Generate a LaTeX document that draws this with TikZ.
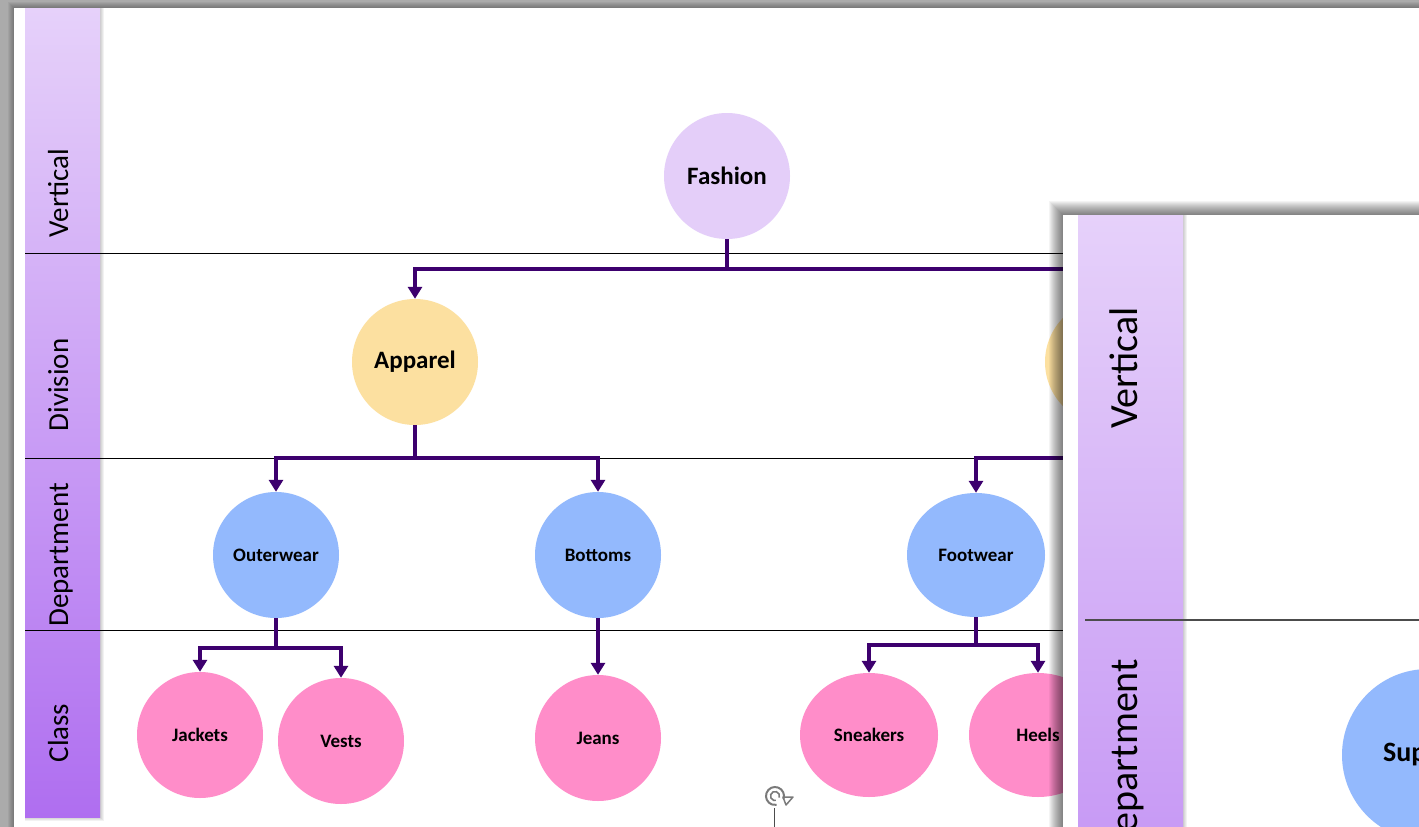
\documentclass[tikz,border=0pt]{standalone}
\usepackage{fontspec}
\setmainfont{Carlito}
\usetikzlibrary{arrows.meta,shapes.geometric}
\definecolor{frame}{HTML}{ABABAB}
\definecolor{lanetop}{HTML}{E6D1FA}
\definecolor{lanebottom}{HTML}{AF6EF0}
\definecolor{vertfill}{HTML}{E4CEF9}
\definecolor{divfill}{HTML}{FCE0A0}
\definecolor{deptfill}{HTML}{93B9FD}
\definecolor{classfill}{HTML}{FF8DC9}
\definecolor{linkpurple}{HTML}{3D006E}
\definecolor{icongray}{HTML}{7A7A7A}
\begin{document}
\begin{tikzpicture}[x=1pt,y=-1pt,
  lanelabel/.style={rotate=90,anchor=base,font=\fontsize{29}{34}\selectfont},
  laneline/.style={draw=black,line width=0.9pt},
  bubble/.style={circle,inner sep=0pt,minimum size=126pt,
    font=\bfseries\fontsize{19}{22}\selectfont},
  wide bubble/.style={ellipse,inner sep=0pt,minimum width=138pt,minimum height=124pt,
    font=\bfseries\fontsize{19}{22}\selectfont},
  big bubble/.style={bubble,font=\bfseries\fontsize{25}{30}\selectfont},
  link/.style={draw=linkpurple,line width=3.5pt,-{Triangle[width=14pt,length=12pt]}}]
  \useasboundingbox (0,0) rectangle (1419,827);
  \clip (0,0) rectangle (1419,827);

  % slide
  \fill[frame] (0,0) rectangle (1419,827);
  \foreach \d in {1,...,6}
    \fill[black,opacity=0.05] (14-\d,8-\d) rectangle (1419,827);
  \fill[white] (14,8) rectangle (1419,827);

  % lane headers
  \foreach \d in {1,...,4}
    \fill[black,opacity=0.05] (25,8) rectangle (100+\d,817+\d);
  \shade[top color=lanetop,bottom color=lanebottom] (25,8) rectangle (100,817);
  \draw[laneline] (25,253) -- (1063,253);
  \draw[laneline] (25,458) -- (1063,458);
  \draw[laneline] (25,630) -- (1063,630);
  \node[lanelabel] (lvertical) at (68,193) {Vertical};
  \node[lanelabel] (ldivision) at (68,385) {Division};
  \node[lanelabel] (ldepartment) at (68,555) {Department};
  \node[lanelabel] (lclass) at (68,733) {Class};

  % nodes
  \node[big bubble,fill=vertfill] (fashion) at (727,176) {Fashion};
  \node[big bubble,fill=divfill] (apparel) at (415,362) {Apparel};
  \node[big bubble,fill=divfill] (division2) at (1108,362) {};
  \node[bubble,fill=deptfill] (outerwear) at (276,555) {Outerwear};
  \node[bubble,fill=deptfill] (bottoms) at (598,555) {Bottoms};
  \node[wide bubble,fill=deptfill] (footwear) at (976,555) {Footwear};
  \node[bubble,fill=classfill] (jackets) at (200,735) {Jackets};
  \node[bubble,fill=classfill] (vests) at (341,741) {Vests};
  \node[bubble,fill=classfill] (jeans) at (598,738) {Jeans};
  \node[wide bubble,fill=classfill] (sneakers) at (869,735) {Sneakers};
  \node[wide bubble,fill=classfill] (heels) at (1038,735) {Heels};

  % links
  \draw[link] (fashion.south) -- ++(0,30) -| (apparel.north);
  \draw[link] (fashion.south) -- ++(0,30) -| (division2.north);
  \draw[link] (apparel.south) -- ++(0,33) -| (outerwear.north);
  \draw[link] (apparel.south) -- ++(0,33) -| (bottoms.north);
  \draw[link] (division2.south) -- ++(0,33) -| (footwear.north);
  \draw[link] (outerwear.south) -- ++(0,30) -| (jackets.north);
  \draw[link] (outerwear.south) -- ++(0,30) -| (vests.north);
  \draw[link] (bottoms.south) -- (jeans.north);
  \draw[link] (footwear.south) -- ++(0,28) -| (sneakers.north);
  \draw[link] (footwear.south) -- ++(0,28) -| (heels.north);

  % rotate handle
  \coordinate (rotate) at (775,796);
  \coordinate (handle) at (774,827);
  \draw[icongray,line width=2pt] (rotate) ++(-20:9pt) arc[start angle=-20,end angle=280,radius=9pt];
  \draw[icongray,line width=1.6pt] (rotate) ++(-20:4.5pt) arc[start angle=-20,end angle=280,radius=4.5pt];
  \draw[icongray,line width=1.5pt,line join=round] (783,797) -- (793,797) -- (786,805) -- cycle;
  \draw[black!70,line width=0.8pt] (774,808) -- (handle);

  % second slide on top
  \foreach \d in {1,...,14}
    \fill[black,opacity=0.045] (1063-\d,215-\d) rectangle (1419,827);
  \fill[white] (1063,215) rectangle (1419,827);
  \foreach \d in {1,...,4}
    \fill[black,opacity=0.05] (1078,215) rectangle (1183+\d,827);
  \shade[top color=lanetop,bottom color=lanetop!45!lanebottom] (1078,215) rectangle (1183,827);
  \draw[draw=black!70,line width=1.4pt] (1085,620) -- (1419,620);
  \node[lanelabel,font=\fontsize{40}{46}\selectfont] (overtical) at (1137,368) {Vertical};
  \node[lanelabel,font=\fontsize{40}{46}\selectfont] (odepartment) at (1137,758) {Department};
  \node[circle,inner sep=0pt,minimum size=172pt,fill=deptfill] (supnode) at (1428,755) {};
  \node[anchor=west,inner sep=0pt,font=\bfseries\fontsize{28}{32}\selectfont] (suptext) at (1383,755) {Sup};
\end{tikzpicture}
\end{document}
